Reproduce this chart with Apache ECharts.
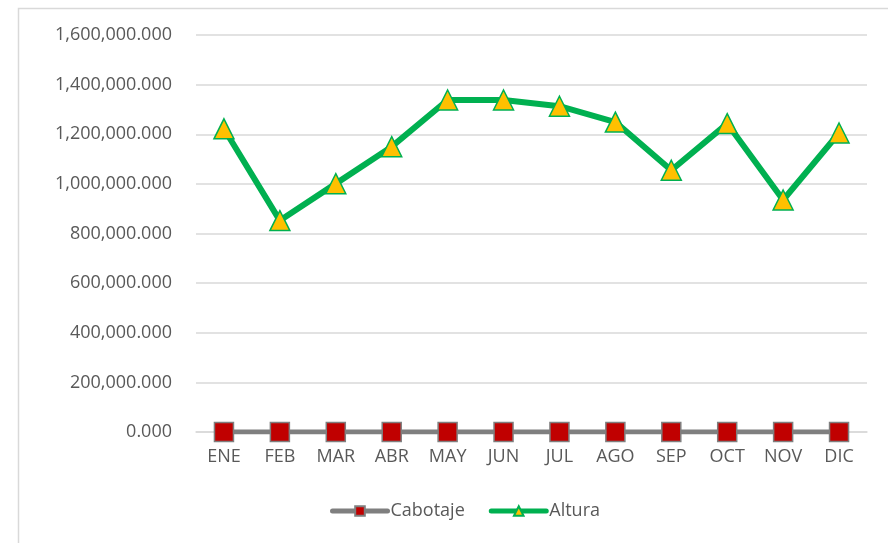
<!DOCTYPE html>
<html>
<head>
<meta charset="utf-8">
<script src="https://cdn.jsdelivr.net/npm/echarts@6/dist/echarts.min.js"></script>
<style>
html,body{margin:0;padding:0;background:#fff;}
#c{width:888px;height:543px;}
</style>
</head>
<body>
<div id="c"></div>
<script>
var months = ['ENE','FEB','MAR','ABR','MAY','JUN','JUL','AGO','SEP','OCT','NOV','DIC'];
var cabotaje = [0,0,0,0,0,0,0,0,0,0,0,0];
var altura = [1222000,852000,1001000,1150000,1338000,1338000,1313000,1249000,1055000,1243000,935000,1205000];
var yMin = 0, yMax = 1600000, yStep = 200000;

var chart = echarts.init(document.getElementById('c'), null, {renderer:'canvas'});
var font = 'Open Sans';
chart.setOption({
  animation:false,
  backgroundColor:'#ffffff',
  graphic:[{type:'rect', left:16, top:6, shape:{width:900,height:600}, style:{fill:'none', stroke:'#d9d9d9', lineWidth:1.5}, silent:true, z:-1}],
  grid:{left:196, right:21, top:35, bottom:111, containLabel:false},
  legend:{
    bottom:18, left:325,
    itemWidth:55, itemHeight:12, itemGap:24,
    lineStyle:{width:5, cap:'round'},
    textStyle:{fontFamily:font, fontSize:18, color:'#595959', padding:[0,0,0,-2]},
    data:['Cabotaje','Altura']
  },
  xAxis:{
    type:'category', data:months, boundaryGap:true,
    axisLine:{show:true, lineStyle:{color:'#d9d9d9', width:1.5}},
    axisTick:{show:false},
    axisLabel:{fontFamily:font, fontSize:18, color:'#595959', margin:16}
  },
  yAxis:{
    type:'value', min:yMin, max:yMax, interval:yStep,
    axisLine:{show:false}, axisTick:{show:false},
    splitLine:{lineStyle:{color:'#d9d9d9', width:1.5}},
    axisLabel:{fontFamily:font, fontSize:18, color:'#595959', margin:24,
      formatter:function(v){return v.toLocaleString('en-US',{minimumFractionDigits:3,maximumFractionDigits:3});}}
  },
  series:[
    {name:'Cabotaje', type:'line', data:cabotaje, symbol:'rect', symbolSize:19,
      lineStyle:{color:'#7f7f7f', width:5},
      itemStyle:{color:'#c00000', borderColor:'#7f7f7f', borderWidth:1.5}, z:2},
    {name:'Altura', type:'line', data:altura, symbol:'triangle', symbolSize:[20,20],
      lineStyle:{color:'#00b050', width:6},
      itemStyle:{color:'#ffc000', borderColor:'#00b050', borderWidth:1.5}, z:3}
  ]
});
</script>
</body>
</html>
